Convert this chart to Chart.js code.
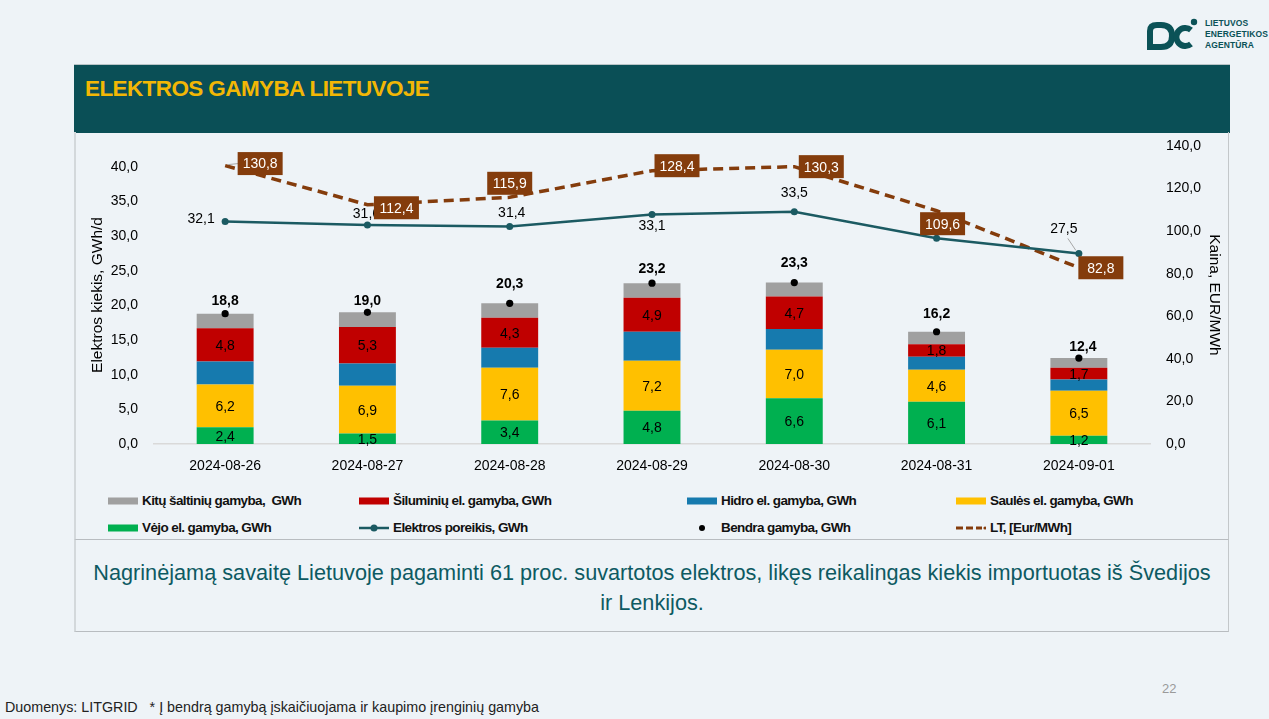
<!DOCTYPE html>
<html lang="lt">
<head>
<meta charset="utf-8">
<title>Elektros gamyba Lietuvoje</title>
<script src="https://cdn.jsdelivr.net/npm/chart.js@4.4.1/dist/chart.umd.min.js"></script>
<style>
  body { margin: 0; width: 1269px; height: 719px; background: #EEF3F7; position: relative; overflow: hidden;
         font-family: "Liberation Sans", Arial, sans-serif; }
  .logo { position: absolute; left: 1144px; top: 16px; }
  .logo-txt { position: absolute; left: 1205px; top: 18px; color: #0B5257; font-weight: bold; font-size: 8.5px; line-height: 11px; letter-spacing: 0.1px; }
  .header { position: absolute; left: 74px; top: 64px; width: 1156px; height: 68px; background: #0A4F56; border-top: 1px solid #B9C4C7; }
  .header h1 { margin: 0; position: absolute; left: 11px; top: 11px; color: #F2B705; font-size: 22.5px; font-weight: bold; letter-spacing: -0.6px; }
  .panel { position: absolute; left: 74px; top: 132px; width: 1155px; height: 408px; border-left: 2px solid #D3D8DB; border-right: 1px solid #C3C7CA; border-bottom: 1px solid #B8BCC0; box-sizing: border-box; }
  .note { position: absolute; left: 74px; top: 540px; width: 1155px; height: 92px; border-left: 2px solid #D3D8DB; border-right: 1px solid #C3C7CA; border-bottom: 1px solid #B8BCC0; box-sizing: border-box;
          color: #0D5A62; font-size: 21.7px; text-align: center; line-height: 30px; padding-top: 18px; }
  #chart { position: absolute; left: 75px; top: 132px; }
  .leg { position: absolute; display: flex; align-items: center; font-size: 13.5px; letter-spacing: -0.6px; font-weight: bold; color: #111; white-space: pre; }
  .leg .mk { width: 30px; height: 14px; margin-right: 4px; position: relative; }
  .foot { position: absolute; left: 5px; top: 699px; font-size: 14.3px; color: #222; white-space: pre; }
  .page { position: absolute; left: 1162px; top: 681px; font-size: 13px; color: #9A9A9A; }
</style>
</head>
<body>

<svg class="logo" width="58" height="38" viewBox="0 0 58 38">
  <path d="M6 31 L6 15 Q6 9 13 9 L17 9 Q28 9 28 20 Q28 31 17 31 Z" fill="none" stroke="#0B5257" stroke-width="6"/>
  <path d="M47 14 A9 9 0 1 0 47 28" fill="none" stroke="#0B5257" stroke-width="6"/>
  <circle cx="50" cy="6" r="3.2" fill="#0B5257"/>
</svg>
<div class="logo-txt">LIETUVOS<br>ENERGETIKOS<br>AGENTŪRA</div>

<div class="header"><h1>ELEKTROS GAMYBA LIETUVOJE</h1></div>
<div class="panel"></div>
<canvas id="chart" width="1155" height="345"></canvas>
<div id="legend"></div>
<div class="note">Nagrinėjamą savaitę Lietuvoje pagaminti 61 proc. suvartotos elektros, likęs reikalingas kiekis importuotas iš Švedijos<br>ir Lenkijos.</div>
<div class="page">22</div>
<div class="foot">Duomenys: LITGRID   * Į bendrą gamybą įskaičiuojama ir kaupimo įrenginių gamyba</div>

<script>
// Duomenys
const dates = ['2024-08-26', '2024-08-27', '2024-08-28', '2024-08-29', '2024-08-30', '2024-08-31', '2024-09-01'];
const vejo = [2.4, 1.5, 3.4, 4.8, 6.6, 6.1, 1.2];
const saules = [6.2, 6.9, 7.6, 7.2, 7.0, 4.6, 6.5];
const hidro = [3.3, 3.2, 2.9, 4.2, 3.0, 1.9, 1.6];
const siluminiu = [4.8, 5.3, 4.3, 4.9, 4.7, 1.8, 1.7];
const kitu = [2.1, 2.1, 2.1, 2.1, 2.0, 1.8, 1.4];
const bendra = [18.8, 19.0, 20.3, 23.2, 23.3, 16.2, 12.4];
const poreikis = [32.1, 31.6, 31.4, 33.1, 33.5, 29.7, 27.5];
const kaina = [130.8, 112.4, 115.9, 128.4, 130.3, 109.6, 82.8];
const leftTicks = [0, 5, 10, 15, 20, 25, 30, 35, 40];

const colors = {
  kitu: '#A0A0A0', siluminiu: '#C00000', hidro: '#167AAE', saules: '#FFC000', vejo: '#00B050',
  poreikis: '#1B5A62', bendra: '#000000', kaina: '#843C0C'
};

// etikečių poslinkiai (px) nuo taško
const porOffsets = [[-24, -2], [-1, -11], [2, -13], [0, 12], [0, -19], [0, -13], [-15, -24]];
const bendOffsets = [[0, -13], [0, -11], [0, -19], [0, -14], [0, -19], [0, -18], [4, -11]];
const kainaOffsets = [[35, -2], [29, 3], [0, -14], [25, -5], [27, 0], [6, 13], [22, 0]];

const fmt = v => v.toFixed(1).replace('.', ',');

const labelPlugin = {
  id: 'valueLabels',
  afterDatasetsDraw(chart) {
    const ctx = chart.ctx;
    ctx.save();
    ctx.textAlign = 'center';
    ctx.textBaseline = 'middle';

    // reikšmės stulpeliuose
    ctx.font = '14px "Liberation Sans", Arial, sans-serif';
    ctx.fillStyle = '#000';
    chart.data.datasets.forEach((ds, i) => {
      if (!ds.showValues) return;
      chart.getDatasetMeta(i).data.forEach((el, j) => {
        const p = el.getProps(['x', 'y', 'base'], true);
        ctx.fillText(fmt(ds.data[j]), p.x, (p.y + p.base) / 2 + 1);
      });
    });

    const find = key => chart.data.datasets.findIndex(d => d.key === key);

    // poreikis
    const pm = chart.getDatasetMeta(find('poreikis'));
    pm.data.forEach((pt, j) => {
      const [dx, dy] = porOffsets[j];
      if (j === 6) {
        ctx.strokeStyle = '#A6A6A6';
        ctx.lineWidth = 1;
        ctx.beginPath();
        ctx.moveTo(pt.x + dx + 4, pt.y + dy + 9);
        ctx.lineTo(pt.x - 3, pt.y - 3);
        ctx.stroke();
      }
      ctx.fillStyle = '#000';
      ctx.fillText(fmt(poreikis[j]), pt.x + dx, pt.y + dy);
    });

    // bendra gamyba
    ctx.font = 'bold 14px "Liberation Sans", Arial, sans-serif';
    const bm = chart.getDatasetMeta(find('bendra'));
    bm.data.forEach((pt, j) => {
      const [dx, dy] = bendOffsets[j];
      ctx.fillText(fmt(bendra[j]), pt.x + dx, pt.y + dy);
    });

    // kainos
    ctx.font = '14px "Liberation Sans", Arial, sans-serif';
    const km = chart.getDatasetMeta(find('kaina'));
    km.data.forEach((pt, j) => {
      const [dx, dy] = kainaOffsets[j];
      const cx = pt.x + dx, cy = pt.y + dy;
      if (j === 0) {
        ctx.strokeStyle = '#A6A6A6';
        ctx.lineWidth = 1;
        ctx.beginPath();
        ctx.moveTo(cx - 22, cy);
        ctx.lineTo(pt.x + 3, pt.y - 1);
        ctx.stroke();
      }
      ctx.fillStyle = colors.kaina;
      ctx.fillRect(cx - 22.5, cy - 11.5, 45, 23);
      ctx.fillStyle = '#fff';
      ctx.fillText(fmt(kaina[j]), cx, cy + 1);
    });
    ctx.restore();
  }
};

const barSet = (key, label, data, showValues) => ({
  key, label, data, type: 'bar', showValues,
  backgroundColor: colors[key], borderWidth: 0,
  yAxisID: 'y', stack: 'gamyba', order: 5,
  barPercentage: 0.4, categoryPercentage: 1
});

new Chart(document.getElementById('chart'), {
  data: {
    labels: dates,
    datasets: [
      barSet('vejo', 'Vėjo el. gamyba, GWh', vejo, true),
      barSet('saules', 'Saulės el. gamyba, GWh', saules, true),
      barSet('hidro', 'Hidro el. gamyba, GWh', hidro, false),
      barSet('siluminiu', 'Šiluminių el. gamyba, GWh', siluminiu, true),
      barSet('kitu', 'Kitų šaltinių gamyba,  GWh', kitu, false),
      {
        key: 'kaina', label: 'LT, [Eur/MWh]', type: 'line', data: kaina, yAxisID: 'y1', stack: 'k', order: 3,
        borderColor: colors.kaina, borderWidth: 3.5, borderDash: [10, 6], pointRadius: 0, fill: false, tension: 0
      },
      {
        key: 'poreikis', label: 'Elektros poreikis, GWh', type: 'line', data: poreikis, yAxisID: 'y', stack: 'p', order: 2,
        borderColor: colors.poreikis, borderWidth: 2.5, pointRadius: 3.5, pointBackgroundColor: colors.poreikis,
        pointBorderWidth: 0, fill: false, tension: 0
      },
      {
        key: 'bendra', label: 'Bendra gamyba, GWh', type: 'line', data: bendra, yAxisID: 'y', stack: 'b', order: 1,
        showLine: false, pointRadius: 3.6, pointBackgroundColor: colors.bendra, pointBorderWidth: 0
      }
    ]
  },
  options: {
    responsive: false,
    animation: false,
    layout: { autoPadding: false, padding: { top: 14, left: 0, right: 0, bottom: 0 } },
    plugins: { legend: { display: false }, tooltip: { enabled: false } },
    scales: {
      x: {
        stacked: true,
        grid: { display: false, drawTicks: false },
        border: { color: '#D9D9D9', width: 1.5 },
        ticks: { color: '#000', font: { size: 14, family: '"Liberation Sans", Arial, sans-serif' }, padding: 14, maxRotation: 0 },
        afterFit: s => { s.height = 33; }
      },
      y: {
        stacked: true, position: 'left', min: 0, max: 43,
        grid: { display: false, drawTicks: false },
        border: { display: false },
        afterBuildTicks: s => { s.ticks = leftTicks.map(v => ({ value: v })); },
        ticks: { color: '#000', padding: 16, font: { size: 14, family: '"Liberation Sans", Arial, sans-serif' }, callback: v => fmt(v) },
        title: { display: true, text: 'Elektros kiekis, GWh/d', color: '#000', padding: { top: 13 },
                 font: { size: 15.5, family: '"Liberation Sans", Arial, sans-serif' } },
        afterFit: s => { s.width = 79; s.paddingTop = 0; s.paddingBottom = 0; }
      },
      y1: {
        position: 'right', min: 0, max: 140,
        grid: { display: false, drawTicks: false },
        border: { display: false },
        ticks: { stepSize: 20, color: '#000', padding: 16, font: { size: 14, family: '"Liberation Sans", Arial, sans-serif' }, callback: v => fmt(v) },
        title: { display: true, text: 'Kaina, EUR/MWh', color: '#000', padding: { top: 6 },
                 font: { size: 15.5, family: '"Liberation Sans", Arial, sans-serif' } },
        afterFit: s => { s.width = 80; s.paddingTop = 0; s.paddingBottom = 0; }
      }
    }
  },
  plugins: [labelPlugin]
});

// legenda
const legendItems = [
  { kind: 'rect', key: 'kitu', text: 'Kitų šaltinių gamyba,  GWh' },
  { kind: 'rect', key: 'siluminiu', text: 'Šiluminių el. gamyba, GWh' },
  { kind: 'rect', key: 'hidro', text: 'Hidro el. gamyba, GWh' },
  { kind: 'rect', key: 'saules', text: 'Saulės el. gamyba, GWh' },
  { kind: 'rect', key: 'vejo', text: 'Vėjo el. gamyba, GWh' },
  { kind: 'line', key: 'poreikis', text: 'Elektros poreikis, GWh' },
  { kind: 'dot', key: 'bendra', text: 'Bendra gamyba, GWh' },
  { kind: 'dash', key: 'kaina', text: 'LT, [Eur/MWh]' }
];
const legCols = [108, 359, 687, 956];
const legRows = [501, 528];
const legend = document.getElementById('legend');
legendItems.forEach((it, i) => {
  const d = document.createElement('div');
  d.className = 'leg';
  d.style.left = legCols[i % 4] + 'px';
  d.style.top = (legRows[Math.floor(i / 4)] - 8) + 'px';
  const c = colors[it.key];
  let svg = '';
  if (it.kind === 'rect') svg = `<rect x="0" y="3.5" width="30" height="7" fill="${c}"/>`;
  if (it.kind === 'line') svg = `<line x1="0" y1="7" x2="30" y2="7" stroke="${c}" stroke-width="2.5"/><circle cx="15" cy="7" r="3.5" fill="${c}"/>`;
  if (it.kind === 'dot') svg = `<circle cx="15" cy="7" r="3" fill="${c}"/>`;
  if (it.kind === 'dash') svg = `<line x1="0" y1="7" x2="26" y2="7" stroke="${c}" stroke-width="3" stroke-dasharray="7,3"/><circle cx="29" cy="7" r="1.6" fill="${c}"/>`;
  d.innerHTML = `<svg class="mk" width="30" height="14">${svg}</svg>${it.text}`;
  legend.appendChild(d);
});
</script>
</body>
</html>
